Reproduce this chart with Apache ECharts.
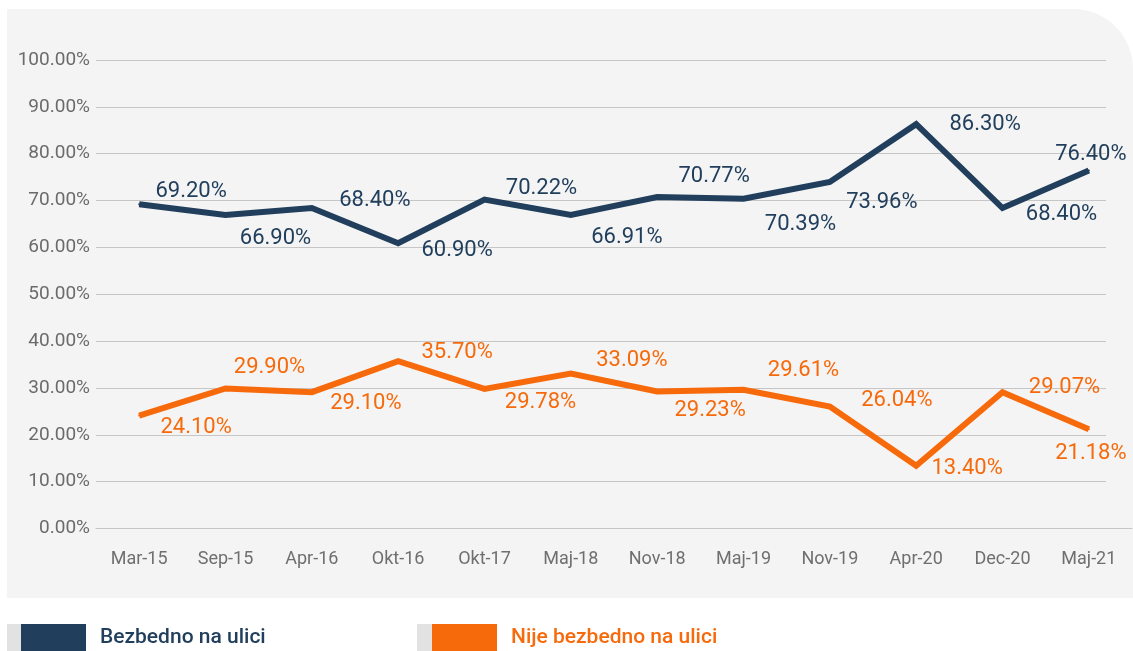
<!DOCTYPE html>
<html>
<head>
<meta charset="utf-8">
<script src="https://cdn.jsdelivr.net/npm/echarts@6/dist/echarts.min.js"></script>
<style>
  html, body { margin: 0; padding: 0; background: #fff; }
  #chart { width: 1133px; height: 651px; }
</style>
</head>
<body>
<div id="chart"></div>
<script>
// kategorije (x osa)
const categories = ['Mar-15', 'Sep-15', 'Apr-16', 'Okt-16', 'Okt-17', 'Maj-18', 'Nov-18', 'Maj-19', 'Nov-19', 'Apr-20', 'Dec-20', 'Maj-21'];
// vrednosti u procentima
const safeValues = [69.2, 66.9, 68.4, 60.9, 70.22, 66.91, 70.77, 70.39, 73.96, 86.3, 68.4, 76.4];
const unsafeValues = [24.1, 29.9, 29.1, 35.7, 29.78, 33.09, 29.23, 29.61, 26.04, 13.4, 29.07, 21.18];
const seriesNames = ['Bezbedno na ulici', 'Nije bezbedno na ulici'];

// pomeraj natpisa u odnosu na tacku (px)
const safeLabelOffsets = [[52, -13], [50, 23], [63, -8], [59, 7], [57, -11], [56, 22], [57, -20], [57, 26], [52, 21], [69, 0], [59, 6], [2, -16]];
const unsafeLabelOffsets = [[57, 12], [44, -21], [54, 11], [59, -9], [56, 14], [61, -13], [53, 19], [60, -19], [67, -6], [51, 3], [62, -5], [2, 24]];

const BLUE = '#213f5c';
const ORANGE = '#f76a0b';
const FONT = 'Roboto';

const fmt = v => v.toFixed(2) + '%';

const withLabels = (values, offsets) => values.map((v, i) => ({
  value: v,
  label: { offset: offsets[i] }
}));

const lineSeries = (name, values, offsets, color) => ({
  name,
  type: 'line',
  xAxisIndex: 1,
  yAxisIndex: 1,
  data: withLabels(values, offsets),
  symbol: 'circle',
  symbolSize: 2,
  itemStyle: { color },
  lineStyle: { color, width: 6, join: 'miter', cap: 'butt' },
  label: {
    show: true,
    position: 'inside',
    align: 'center',
    verticalAlign: 'middle',
    color,
    fontFamily: FONT,
    fontSize: 22,
    formatter: p => fmt(p.value)
  },
  emphasis: { disabled: true },
  z: 5
});

const chart = echarts.init(document.getElementById('chart'), null, { renderer: 'canvas' });

chart.setOption({
  animation: false,
  backgroundColor: '#fff',
  textStyle: { fontFamily: FONT },
  graphic: [
    // siva pozadina panela sa zaobljenim uglom
    {
      type: 'rect', z: -10, silent: true,
      shape: { x: 7, y: 9, width: 1126, height: 589, r: [0, 60, 0, 0] },
      style: { fill: '#f4f4f4' }
    },
    { type: 'rect', z: -10, silent: true, shape: { x: 7, y: 624, width: 14, height: 27 }, style: { fill: '#e2e2e2' } },
    { type: 'rect', z: -10, silent: true, shape: { x: 417, y: 624, width: 15, height: 27 }, style: { fill: '#e2e2e2' } }
  ],
  legend: [
    {
      data: [seriesNames[0]],
      left: 21, top: 624,
      padding: 0,
      icon: 'rect',
      itemWidth: 65, itemHeight: 27,
      selectedMode: false,
      textStyle: { color: BLUE, fontSize: 21, fontWeight: 500, fontFamily: FONT, padding: [0, 0, 0, 9] }
    },
    {
      data: [seriesNames[1]],
      left: 432, top: 624,
      padding: 0,
      icon: 'rect',
      itemWidth: 65, itemHeight: 27,
      selectedMode: false,
      textStyle: { color: ORANGE, fontSize: 21, fontWeight: 500, fontFamily: FONT, padding: [0, 0, 0, 9] }
    }
  ],
  grid: [
    // mreza (linije se zavrsavaju pre kraja x ose)
    { left: 96, right: 27, top: 60, bottom: 122.5, containLabel: false },
    // glavni grafikon
    { left: 96, right: 1, top: 60, bottom: 122.5, containLabel: false }
  ],
  xAxis: [
    { gridIndex: 0, type: 'category', data: categories, show: false },
    {
      gridIndex: 1,
      type: 'category',
      data: categories,
      boundaryGap: true,
      axisLine: { lineStyle: { color: '#c6c6c6', width: 1 } },
      axisTick: { length: 5, lineStyle: { color: '#c6c6c6' } },
      axisLabel: { color: '#6f6f6f', fontSize: 18, fontFamily: FONT, margin: 22 }
    }
  ],
  yAxis: [
    {
      gridIndex: 0,
      type: 'value',
      min: 0, max: 100, interval: 10,
      axisLine: { show: false },
      axisTick: { show: false },
      splitLine: { lineStyle: { color: '#c6c6c6', width: 1 } },
      axisLabel: { color: '#6b6b6b', fontSize: 19, fontFamily: FONT, margin: 6, formatter: v => fmt(v) }
    },
    {
      gridIndex: 1,
      type: 'value',
      min: 0, max: 100, interval: 10,
      show: false,
      splitLine: { show: false }
    }
  ],
  series: [
    lineSeries(seriesNames[0], safeValues, safeLabelOffsets, BLUE),
    lineSeries(seriesNames[1], unsafeValues, unsafeLabelOffsets, ORANGE)
  ]
});
</script>
</body>
</html>
